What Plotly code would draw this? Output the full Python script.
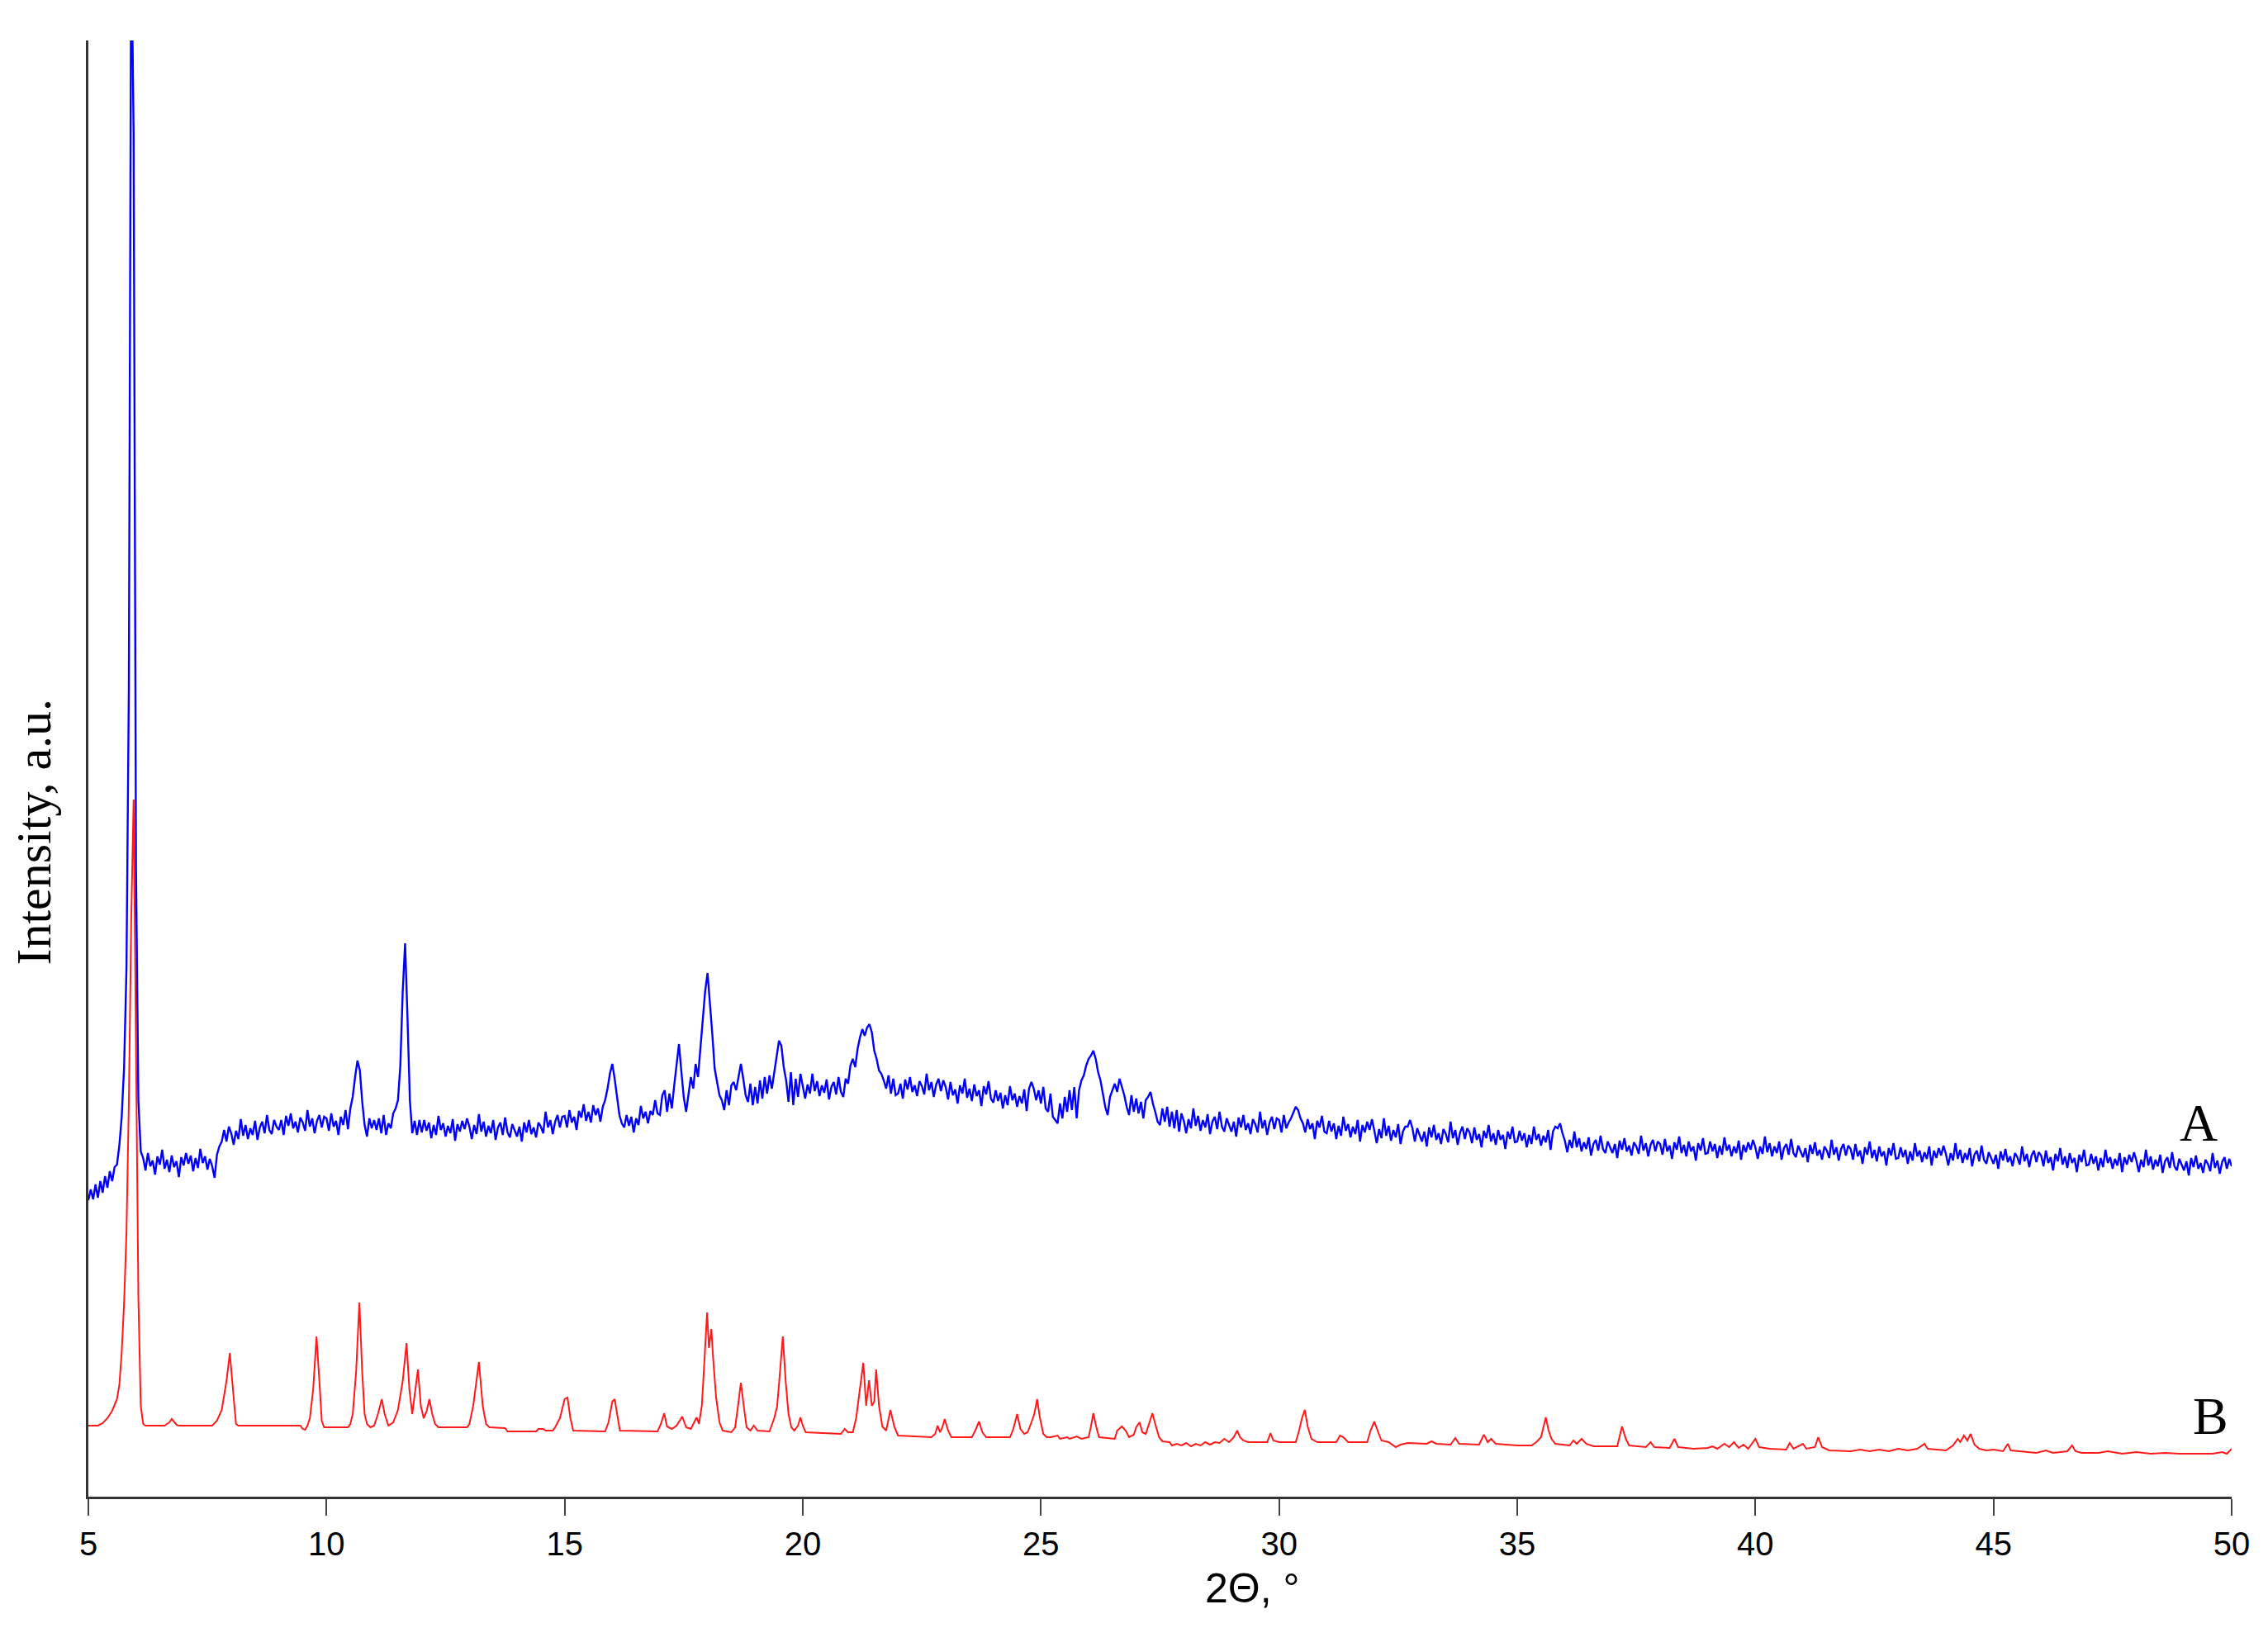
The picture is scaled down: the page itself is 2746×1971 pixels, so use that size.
import plotly.graph_objects as go

# ---------------- data ----------------
# Pattern A (measured, blue): intensity every 0.05 deg, 2theta from 5.00 to 50.00
A_05_10 = [
    359, 372, 360, 378, 362, 382, 368, 388, 374, 394, 382, 399, 402, 425, 460, 520, 640, 980, 1900, 1650,
    760, 480, 418, 410, 395, 416, 400, 407, 390, 412, 402, 420, 397, 408, 393, 413, 399, 406, 387, 411,
    401, 416, 403, 413, 394, 410, 398, 421, 404, 412, 396, 409, 400, 386, 414, 424, 430, 444, 430, 448,
    440, 426, 443, 433, 457, 437, 450, 433, 446, 438, 455, 432, 447, 454, 440, 462, 444, 439, 456, 448,
    444, 456, 438, 461, 449, 464, 446, 454, 441, 459, 453, 443, 468, 448, 458, 440, 455, 462, 447, 460,
]
A_10_15 = [
    458, 443, 464, 448, 455, 438, 460, 450, 468, 445, 470, 484, 508, 528, 516, 478, 450, 436, 458, 446,
    456, 444, 458, 440, 462, 438, 452, 446, 464, 470, 480, 522, 612, 670, 580, 480, 440, 455, 438, 456,
    441, 456, 443, 453, 434, 450, 438, 461, 444, 452, 436, 449, 440, 457, 431, 451, 442, 455, 445, 458,
    448, 433, 450, 439, 463, 442, 454, 436, 449, 440, 456, 432, 447, 453, 438, 459, 441, 435, 451, 443,
    436, 448, 430, 453, 441, 456, 439, 447, 435, 453, 448, 440, 466, 447, 456, 439, 454, 462, 447, 460,
]
A_15_20 = [
    461, 447, 468, 453, 460, 444, 467, 459, 475, 455, 466, 453, 474, 462, 470, 454, 472, 480, 494, 512,
    524, 506, 482, 462, 452, 447, 462, 449, 460, 441, 458, 450, 473, 458, 466, 452, 467, 462, 480, 464,
    462, 486, 492, 466, 488, 470, 498, 522, 548, 515, 484, 466, 490, 508, 494, 524, 508, 544, 572, 612,
    634, 600, 560, 518, 500, 486, 480, 468, 492, 474, 498, 502, 492, 510, 524, 506, 486, 478, 500, 474,
    496, 476, 504, 482, 508, 488, 510, 494, 514, 532, 552, 546, 520, 504, 478, 514, 474, 506, 484, 512,
]
A_20_25 = [
    497, 482, 499, 488, 512, 491, 503, 485, 498, 489, 505, 481, 496, 502, 487, 508, 490, 484, 506, 500,
    522, 530, 520, 542, 556, 566, 558, 568, 572, 562, 540, 530, 516, 512, 504, 494, 510, 488, 506, 486,
    488, 500, 482, 505, 493, 508, 490, 498, 485, 503, 497, 487, 512, 492, 502, 484, 499, 506, 491, 504,
    496, 481, 502, 486, 493, 476, 498, 488, 506, 483, 494, 479, 499, 485, 492, 473, 497, 487, 503, 482,
    477, 492, 479, 489, 470, 486, 474, 497, 480, 488, 472, 485, 476, 493, 467, 494, 502, 494, 480, 492,
]
A_25_30 = [
    476, 496, 470, 466, 488, 460, 456, 452, 476, 458, 484, 466, 492, 468, 496, 458, 492, 504, 510, 522,
    530, 534, 540, 530, 514, 504, 488, 472, 462, 484, 492, 500, 490, 506, 496, 486, 472, 462, 486, 466,
    482, 464, 478, 458, 480, 484, 490, 476, 466, 454, 450, 470, 454, 472, 448, 466, 446, 468, 442, 464,
    455, 440, 457, 446, 470, 449, 461, 443, 456, 447, 463, 439, 454, 460, 445, 466, 448, 442, 458, 450,
    442, 454, 436, 459, 447, 462, 444, 452, 439, 457, 451, 441, 466, 446, 456, 438, 453, 460, 445, 458,
]
A_30_35 = [
    456, 441, 462, 446, 453, 458, 466, 472, 468, 458, 452, 441, 457, 445, 452, 433, 455, 447, 461, 442,
    440, 455, 442, 452, 433, 449, 437, 460, 443, 451, 435, 448, 439, 456, 430, 450, 441, 454, 444, 457,
    443, 428, 445, 434, 458, 437, 449, 431, 444, 435, 451, 427, 442, 448, 448, 456, 446, 430, 446, 438,
    430, 442, 424, 447, 435, 450, 432, 440, 427, 445, 439, 429, 454, 434, 444, 426, 441, 448, 433, 446,
    441, 428, 447, 432, 439, 423, 443, 434, 450, 430, 440, 426, 444, 432, 438, 421, 442, 433, 448, 429,
]
A_35_40 = [
    430, 443, 431, 440, 423, 438, 427, 448, 432, 439, 425, 437, 429, 444, 420, 442, 448, 446, 452, 440,
    431, 417, 432, 422, 442, 423, 434, 418, 429, 421, 435, 413, 427, 432, 419, 437, 421, 416, 430, 423,
    416, 427, 410, 431, 420, 434, 418, 425, 413, 429, 424, 415, 437, 419, 428, 412, 426, 432, 418, 430,
    427, 414, 433, 418, 425, 409, 429, 420, 436, 416, 426, 412, 430, 418, 424, 407, 428, 419, 434, 415,
    416, 430, 418, 427, 410, 425, 414, 435, 419, 426, 412, 424, 416, 431, 408, 426, 417, 429, 420, 432,
]
A_40_45 = [
    423, 409, 424, 415, 436, 417, 428, 412, 424, 416, 430, 408, 422, 427, 414, 433, 416, 411, 425, 418,
    411, 422, 405, 426, 415, 429, 413, 420, 408, 424, 419, 410, 432, 414, 423, 407, 421, 427, 413, 425,
    421, 408, 427, 412, 419, 403, 423, 414, 430, 410, 420, 406, 424, 412, 418, 401, 422, 413, 428, 409,
    410, 423, 411, 420, 403, 418, 407, 428, 412, 419, 405, 417, 409, 424, 401, 419, 410, 422, 413, 425,
    415, 401, 416, 407, 428, 409, 420, 404, 416, 408, 422, 400, 414, 419, 406, 425, 408, 403, 417, 410,
]
A_45_50 = [
    403, 414, 397, 418, 407, 421, 405, 412, 400, 416, 411, 402, 424, 406, 415, 399, 413, 419, 405, 417,
    413, 400, 419, 404, 411, 395, 415, 406, 422, 402, 412, 398, 416, 404, 410, 393, 414, 405, 420, 401,
    402, 415, 403, 412, 395, 410, 399, 420, 404, 411, 397, 409, 401, 416, 393, 411, 402, 414, 405, 417,
    407, 393, 408, 399, 420, 401, 412, 396, 408, 400, 414, 392, 406, 411, 398, 417, 400, 395, 409, 402,
    395, 406, 389, 410, 399, 413, 397, 404, 392, 408, 403, 394, 416, 398, 407, 391, 405, 411, 397, 409,
    400,
]
intensity_A = A_05_10 + A_10_15 + A_15_20 + A_20_25 + A_25_30 + A_30_35 + A_35_40 + A_40_45 + A_45_50
two_theta_A = [round(5 + 0.05 * i, 2) for i in range(len(intensity_A))]

# Pattern B (simulated, red): (2theta, intensity) points
B_pts_05_14 = [
    (5.00, 86), (5.20, 86), (5.30, 89), (5.40, 95), (5.50, 104), (5.60, 118), (5.65, 135), (5.70, 175),
    (5.75, 235), (5.80, 320), (5.85, 480), (5.90, 700), (5.95, 844), (6.00, 560), (6.05, 240), (6.10, 110),
    (6.15, 88), (6.20, 86), (6.60, 86), (6.65, 88), (6.70, 90), (6.75, 94), (6.80, 90), (6.85, 87), (6.90, 86),
    (7.60, 86), (7.70, 92), (7.80, 105), (7.90, 140), (7.97, 174), (8.05, 120), (8.10, 88), (8.15, 86),
    (9.45, 86), (9.50, 82), (9.55, 81), (9.60, 86), (9.65, 95), (9.72, 130), (9.79, 194), (9.85, 140),
    (9.90, 92), (9.95, 84), (10.45, 84), (10.50, 88), (10.55, 100), (10.62, 150), (10.69, 235), (10.75, 150),
    (10.80, 100), (10.85, 88), (10.92, 84), (11.00, 86), (11.08, 100), (11.16, 118), (11.22, 100), (11.30, 86),
    (11.40, 90), (11.50, 105), (11.60, 140), (11.68, 186), (11.74, 130), (11.80, 100), (11.86, 125),
    (11.92, 154), (11.98, 110), (12.04, 95), (12.10, 103), (12.16, 118), (12.22, 100), (12.28, 88),
    (12.35, 84), (12.95, 84), (13.00, 88), (13.08, 110), (13.20, 163), (13.28, 110), (13.35, 88),
    (13.42, 84), (13.75, 83), (13.80, 79),
]
B_pts_14_23 = [
    (14.40, 79), (14.45, 82), (14.55, 82), (14.60, 80), (14.75, 80), (14.80, 84), (14.90, 95), (15.00, 118),
    (15.06, 120), (15.12, 95), (15.18, 80), (15.85, 79), (15.92, 90), (16.00, 115), (16.05, 118), (16.10, 100),
    (16.16, 80), (16.95, 79), (17.02, 88), (17.09, 101), (17.15, 85), (17.25, 82), (17.35, 86), (17.47, 97),
    (17.55, 84), (17.65, 82), (17.72, 90), (17.77, 96), (17.82, 88), (17.88, 110), (17.94, 170), (17.99, 223),
    (18.03, 180), (18.08, 203), (18.12, 165), (18.18, 120), (18.25, 90), (18.32, 80), (18.50, 78), (18.58, 84),
    (18.64, 110), (18.70, 138), (18.76, 110), (18.82, 84), (18.90, 80), (18.97, 86), (19.05, 80), (19.30, 79),
    (19.40, 95), (19.46, 109), (19.52, 150), (19.58, 194), (19.64, 140), (19.70, 100), (19.76, 84), (19.82, 80),
    (19.90, 86), (19.95, 96), (20.00, 86), (20.06, 78), (20.80, 76), (20.88, 82), (20.95, 78), (21.05, 78),
    (21.12, 95), (21.20, 130), (21.27, 162), (21.33, 110), (21.39, 141), (21.45, 110), (21.50, 115),
    (21.54, 154), (21.60, 110), (21.67, 85), (21.75, 80), (21.84, 105), (21.92, 85), (22.00, 74),
    (22.70, 72), (22.78, 76), (22.83, 86), (22.88, 78), (22.93, 84), (22.98, 94), (23.05, 80), (23.12, 72),
]
B_pts_23_33 = [
    (23.55, 72), (23.62, 80), (23.70, 91), (23.77, 78), (23.85, 72), (24.35, 72), (24.42, 82), (24.50, 100),
    (24.57, 82), (24.65, 76), (24.72, 78), (24.80, 90), (24.86, 100), (24.92, 118), (24.98, 95), (25.05, 76),
    (25.12, 72), (25.20, 72), (25.35, 74), (25.40, 70), (25.55, 72), (25.60, 70), (25.75, 73), (25.85, 70),
    (26.00, 72), (26.05, 85), (26.10, 101), (26.16, 85), (26.22, 72), (26.55, 70), (26.60, 80), (26.70, 85),
    (26.78, 80), (26.85, 72), (26.95, 75), (27.00, 84), (27.07, 90), (27.13, 78), (27.20, 76), (27.28, 90),
    (27.34, 101), (27.40, 88), (27.48, 72), (27.55, 67), (27.70, 66), (27.75, 62), (27.85, 64), (27.95, 62),
    (28.05, 65), (28.15, 61), (28.25, 64), (28.35, 62), (28.45, 66), (28.55, 63), (28.65, 66), (28.75, 65),
    (28.85, 70), (28.95, 66), (29.05, 72), (29.12, 80), (29.18, 72), (29.25, 68), (29.35, 66), (29.75, 66),
    (29.82, 77), (29.88, 68), (30.00, 66), (30.35, 66), (30.42, 80), (30.48, 95), (30.54, 105), (30.60, 85),
    (30.68, 70), (30.80, 66), (31.20, 66), (31.28, 74), (31.35, 72), (31.45, 66), (31.85, 66), (31.92, 80),
    (32.00, 91), (32.08, 78), (32.15, 68), (32.30, 66), (32.40, 62), (32.45, 60), (32.55, 63), (32.70, 65),
]
B_pts_33_50 = [
    (33.10, 64), (33.20, 67), (33.30, 64), (33.60, 63), (33.70, 71), (33.78, 64), (34.20, 63), (34.30, 75),
    (34.38, 66), (34.45, 70), (34.55, 64), (35.00, 62), (35.30, 62), (35.40, 66), (35.50, 72), (35.60, 96),
    (35.66, 80), (35.72, 70), (35.80, 64), (36.10, 62), (36.18, 68), (36.25, 64), (36.35, 70), (36.45, 64),
    (36.60, 61), (37.10, 61), (37.20, 85), (37.28, 70), (37.35, 62), (37.70, 60), (37.80, 66), (37.88, 60),
    (38.20, 59), (38.30, 70), (38.38, 60), (38.70, 58), (39.00, 59), (39.10, 61), (39.20, 58), (39.35, 64),
    (39.45, 60), (39.55, 66), (39.65, 59), (39.75, 63), (39.85, 58), (40.00, 70), (40.08, 60), (40.30, 58),
    (40.65, 57), (40.72, 65), (40.80, 58), (41.00, 64), (41.07, 58), (41.25, 60), (41.32, 72), (41.40, 60),
    (41.55, 56), (42.00, 55), (42.20, 57), (42.40, 55), (42.60, 57), (42.80, 55), (43.00, 58), (43.20, 56),
    (43.40, 58), (43.55, 64), (43.62, 58), (43.80, 57), (44.00, 56), (44.15, 62), (44.25, 70), (44.30, 66),
    (44.38, 74), (44.45, 68), (44.52, 76), (44.60, 63), (44.70, 58), (44.85, 56), (45.00, 57), (45.20, 55),
    (45.30, 64), (45.36, 56), (45.60, 55), (45.90, 53), (46.10, 56), (46.25, 53), (46.55, 55), (46.65, 62),
    (46.72, 55), (46.85, 53), (47.20, 53), (47.40, 55), (47.70, 52), (48.00, 54), (48.30, 52), (48.60, 53),
    (48.90, 52), (49.30, 52), (49.60, 52), (49.80, 54), (49.90, 52), (50.00, 58),
]
B_pts = B_pts_05_14 + B_pts_14_23 + B_pts_23_33 + B_pts_33_50
two_theta_B = [p[0] for p in B_pts]
intensity_B = [p[1] for p in B_pts]

x_ticks = [5, 10, 15, 20, 25, 30, 35, 40, 45, 50]
labels = {"A": (49.31, 453), "B": (49.55, 98)}

# ---------------- figure ----------------
SERIF = "Liberation Serif, Times New Roman, serif"
SANS = "Liberation Sans, Arial, sans-serif"

fig = go.Figure()
fig.add_trace(go.Scatter(x=two_theta_B, y=intensity_B, mode="lines",
                         line=dict(color="#ff1a1a", width=2.0), name="B", showlegend=False))
fig.add_trace(go.Scatter(x=two_theta_A, y=intensity_A, mode="lines",
                         line=dict(color="#0000ff", width=2.4), name="A", showlegend=False))

for txt, (xx, yy) in labels.items():
    fig.add_annotation(x=xx, y=yy, xref="x", yref="y", text=txt, showarrow=False,
                       xanchor="center", yanchor="middle",
                       font=dict(family=SERIF, size=64, color="black"))

# axis titles (placed as in the original figure, off-centre)
fig.add_annotation(x=-0.0256, y=0.4566, xref="paper", yref="paper", text="Intensity, a.u.",
                   textangle=-90, showarrow=False, xanchor="center", yanchor="middle",
                   font=dict(family=SERIF, size=60, color="black"))
fig.add_annotation(x=0.543, y=-0.063, xref="paper", yref="paper", text="2Θ, °",
                   showarrow=False, xanchor="center", yanchor="middle",
                   font=dict(family=SANS, size=50, color="black"))

fig.update_layout(
    width=2730, height=1955,
    margin=dict(l=99, r=36, t=41, b=151, autoexpand=False),
    paper_bgcolor="white", plot_bgcolor="white",
    showlegend=False,
)
fig.update_xaxes(
    range=[5, 50], tickvals=x_ticks, ticktext=[str(v) for v in x_ticks],
    showline=True, linecolor="#333333", linewidth=3, mirror=False,
    ticks="outside", ticklen=20, tickwidth=2, tickcolor="#444444",
    showgrid=False, zeroline=False, automargin=False,
    tickfont=dict(family=SANS, size=40, color="black"),
)
fig.update_yaxes(
    range=[0, 1763], showticklabels=False, ticks="",
    showline=True, linecolor="#333333", linewidth=3,
    showgrid=False, zeroline=False, automargin=False,
)

fig.write_html("out.html")
